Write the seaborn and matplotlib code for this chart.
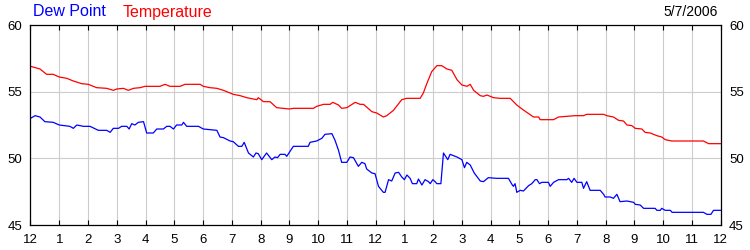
import matplotlib
matplotlib.use("Agg")
import matplotlib.pyplot as plt
import seaborn as sns
import pandas as pd

temp_hours = [0.0, 0.33, 0.56, 0.79, 1.0, 1.26, 1.49, 1.78, 2.01, 2.30, 2.65, 2.88, 3.0, 3.23, 3.40, 3.58,
              3.81, 3.98, 4.50, 4.68, 4.85, 5.20, 5.37, 5.90, 6.01, 6.24, 6.48, 6.71, 6.94, 7.05, 7.29, 7.52,
              7.63, 7.87, 7.92, 8.10, 8.33, 8.56, 9.0, 9.14, 9.84, 9.95, 10.19, 10.42, 10.51, 10.71, 10.82,
              11.0, 11.29, 11.46, 11.58, 11.87, 12.04, 12.27, 12.39, 12.62, 12.91, 13.08, 13.55, 13.66, 13.78,
              13.95, 14.13, 14.30, 14.48, 14.65, 14.83, 15.0, 15.18, 15.29, 15.41, 15.64, 15.75, 15.87, 16.10,
              16.33, 16.68, 16.91, 17.09, 17.49, 17.67, 17.72, 18.19, 18.36, 18.94, 19.23, 19.34, 19.93, 20.04,
              20.27, 20.45, 20.62, 20.74, 20.91, 21.03, 21.26, 21.37, 21.55, 21.78, 21.95, 22.07, 22.30, 23.40,
              23.58, 24.0]
temp_values = [56.9, 56.7, 56.3, 56.3, 56.1, 56.0, 55.8, 55.6, 55.55, 55.3, 55.25, 55.1, 55.2, 55.25, 55.1, 55.25,
               55.3, 55.4, 55.4, 55.55, 55.4, 55.4, 55.55, 55.55, 55.4, 55.3, 55.25, 55.1, 54.9, 54.8, 54.7, 54.55,
               54.5, 54.4, 54.55, 54.25, 54.25, 53.8, 53.7, 53.75, 53.75, 53.9, 54.05, 54.05, 54.2, 54.0, 53.75,
               53.8, 54.2, 54.05, 54.05, 53.5, 53.4, 53.1, 53.2, 53.6, 54.4, 54.5, 54.5, 54.9, 55.6,
               56.5, 56.95, 56.95, 56.7, 56.6, 55.9, 55.5, 55.4, 55.55, 55.1, 54.7, 54.65, 54.75, 54.55,
               54.5, 54.5, 54.0, 53.7, 53.1, 53.1, 52.9, 52.9, 53.1, 53.2, 53.2, 53.3, 53.3, 53.2,
               53.1, 52.85, 52.8, 52.5, 52.45, 52.25, 52.2, 51.95, 51.9, 51.7, 51.6, 51.4, 51.3, 51.3,
               51.1, 51.1]

dew_hours = [0.0, 0.16, 0.33, 0.50, 0.79, 1.0, 1.37, 1.49, 1.61, 1.84, 2.07, 2.36, 2.65, 2.77, 2.88, 3.06, 3.17,
             3.35, 3.43, 3.52, 3.63, 3.75, 3.93, 4.04, 4.27, 4.39, 4.62, 4.74, 4.85, 4.97, 5.08, 5.26, 5.32,
             5.43, 5.84, 6.01, 6.24, 6.48, 6.59, 6.71, 6.94, 7.05, 7.23, 7.35, 7.43, 7.58,
             7.75, 7.84, 7.92, 8.04, 8.21, 8.39, 8.50, 8.59, 8.68, 8.85, 8.91, 9.14, 9.66, 9.72, 9.95, 10.13,
             10.24, 10.48, 10.59, 10.71, 10.82, 11.0, 11.11, 11.23, 11.40, 11.52, 11.63, 11.69, 11.87, 11.98,
             12.10, 12.27, 12.33, 12.45, 12.56, 12.68, 12.80, 12.91, 13.0, 13.09, 13.20, 13.28, 13.43, 13.49,
             13.61, 13.72, 13.84, 13.90, 13.99, 14.07, 14.13, 14.27, 14.36, 14.51, 14.59, 14.83, 15.0, 15.09,
             15.17, 15.29, 15.43, 15.64, 15.75, 15.92, 16.21,
             16.33, 16.62, 16.74, 16.79, 16.85, 16.91, 17.03, 17.14, 17.32, 17.43, 17.55, 17.61, 17.70, 17.78,
             18.01, 18.07, 18.19, 18.36, 18.65, 18.71, 18.82, 18.90, 19.0, 19.17, 19.23, 19.34, 19.46, 19.81,
             19.93, 19.98, 20.16, 20.27, 20.39, 20.50, 20.74, 20.97, 21.03, 21.20, 21.32, 21.72, 21.78, 21.90,
             21.95, 22.07, 22.25, 22.31, 23.40, 23.52, 23.66, 23.75, 24.0]
dew_values = [53.0, 53.2, 53.1, 52.75, 52.7, 52.5, 52.4, 52.25, 52.5, 52.4, 52.4, 52.1, 52.1, 51.95, 52.25, 52.25, 52.4,
              52.4, 52.2, 52.6, 52.5, 52.7, 52.75, 51.9, 51.9, 52.2, 52.2, 52.4, 52.4, 52.2, 52.5, 52.5, 52.7,
              52.4, 52.4, 52.2, 52.15, 52.1, 51.6, 51.55, 51.3, 51.25, 50.9, 50.9, 51.2, 50.4,
              50.1, 50.4, 50.35, 49.9, 50.4, 49.9, 50.1, 50.05, 50.3, 50.3, 50.15, 50.9, 50.9, 51.2, 51.3, 51.5,
              51.8, 51.85, 51.35, 50.6, 49.7, 49.7, 50.1, 50.05, 49.4, 49.7, 49.6, 49.2, 48.9, 48.85,
              47.9, 47.45, 47.45, 48.4, 48.3, 48.9, 48.95, 48.6, 48.4, 48.75, 48.5, 48.1, 48.1, 48.45,
              48.0, 48.4, 48.25, 48.1, 48.4, 48.25, 48.1, 48.1, 50.4, 49.9, 50.3, 50.1, 49.9, 49.3,
              49.7, 49.5, 48.9, 48.3, 48.25, 48.55, 48.5,
              48.5, 48.5, 48.05, 47.9, 48.1, 47.45, 47.6, 47.55, 47.95, 48.1, 48.4, 48.4, 48.1, 48.2,
              48.2, 47.9, 48.2, 48.4, 48.4, 48.5, 48.2, 48.5, 48.2, 48.2, 47.75, 48.25, 47.6, 47.6,
              47.3, 47.1, 47.1, 47.0, 47.3, 46.75, 46.8, 46.7, 46.55, 46.5, 46.25, 46.25, 46.1, 46.1,
              46.25, 46.1, 46.1, 45.95, 45.95, 45.8, 45.8, 46.1, 46.1]

hour_ticks = list(range(25))
hour_labels = ["12", "1", "2", "3", "4", "5", "6", "7", "8", "9", "10", "11",
               "12", "1", "2", "3", "4", "5", "6", "7", "8", "9", "10", "11", "12"]
y_ticks = [45, 50, 55, 60]
date_label = "5/7/2006"

sns.set_theme(style="white")
plt.rcParams["font.family"] = ["Liberation Sans", "DejaVu Sans"]

fig = plt.figure(figsize=(7.5, 2.5), dpi=100)
ax = fig.add_axes([30.5 / 750, 0.1, (720.7 - 30.5) / 750, 0.8])

temp_df = pd.DataFrame({"hour": temp_hours, "value": temp_values})
dew_df = pd.DataFrame({"hour": dew_hours, "value": dew_values})

sns.lineplot(data=temp_df, x="hour", y="value", ax=ax, color="#ff0000", linewidth=0.9)
sns.lineplot(data=dew_df, x="hour", y="value", ax=ax, color="#0000ff", linewidth=0.9)

ax.set_xlim(0, 24)
ax.set_ylim(45, 60)
ax.set_xticks(hour_ticks)
ax.set_xticklabels(hour_labels)
ax.set_yticks(y_ticks)
ax.set_xlabel("")
ax.set_ylabel("")
ax.grid(True, color="#cccccc", linewidth=0.8)
ax.set_axisbelow(True)
for s in ax.spines.values():
    s.set_color("black")
    s.set_linewidth(0.9)

ax.tick_params(axis="x", which="both", direction="in", length=3.6, width=0.8, color="black",
               top=True, bottom=True, labelsize=9.5, pad=6.5, labelcolor="black")
ax.tick_params(axis="y", length=0, labelsize=9.5, pad=6, labelcolor="black", labelleft=True, labelright=True)

fig.text(33 / 750, 1 - 12 / 250, "Dew Point", color="#0000ff", fontsize=11.5, va="center", ha="left")
fig.text(123 / 750, 1 - 12 / 250, "Temperature", color="#ff0000", fontsize=11.5, va="center", ha="left")
fig.text(718 / 750, 1 - 12 / 250, date_label, color="black", fontsize=10, va="center", ha="right")

fig.savefig("out.png", dpi=100, facecolor="white")
